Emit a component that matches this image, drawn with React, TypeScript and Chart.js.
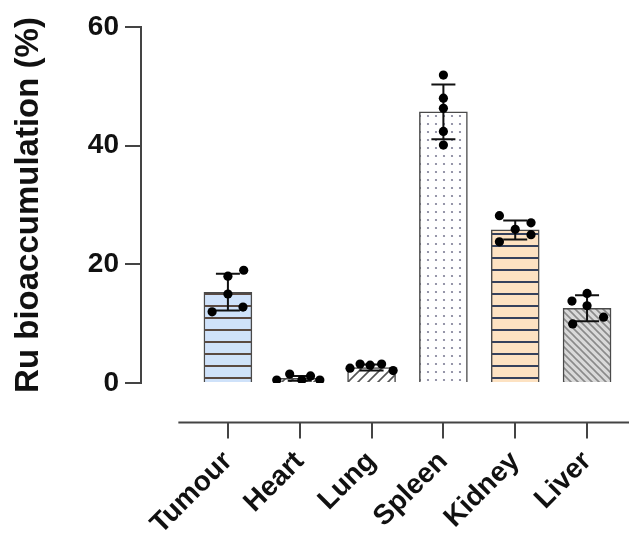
import React, { useEffect, useRef } from 'react';
import { Chart, registerables } from 'chart.js';

Chart.register(...registerables);

// ---------- data ----------
const categories = ['Tumour', 'Heart', 'Lung', 'Spleen', 'Kidney', 'Liver'];
const meanValues = [15.3, 0.8, 2.6, 45.7, 25.8, 12.6];
const sdValues = [3.1, 0.4, 0.5, 4.6, 1.6, 2.2];
const tumourPoints = [19.0, 18.0, 15.0, 12.8, 12.0];
const heartPoints = [0.5, 1.5, 0.5, 1.2, 0.5];
const lungPoints = [2.5, 3.2, 3.0, 3.2, 2.1];
const spleenPoints = [51.9, 48.0, 46.3, 42.4, 40.1];
const kidneyPoints = [28.2, 25.9, 27.0, 25.0, 23.8];
const liverPoints = [13.8, 15.1, 13.0, 11.1, 9.95];
const yTicks = [0, 20, 40, 60];
const yTitle = 'Ru bioaccumulation (%)';

// ---------- styling ----------
const pointSets = [tumourPoints, heartPoints, lungPoints, spleenPoints, kidneyPoints, liverPoints];
const jitter = [
  [0.22, 0, 0, 0.21, -0.22],
  [-0.32, -0.14, 0.03, 0.15, 0.28],
  [-0.3, -0.16, -0.02, 0.14, 0.3],
  [0, 0, 0, 0, 0],
  [-0.22, 0, 0.22, 0.22, -0.22],
  [-0.21, 0, 0, 0.23, -0.2],
];
const FONT = "'Liberation Sans', Arial, Helvetica, sans-serif";
const W = 629;
const H = 536;

function tile(w: number, h: number, draw: (c: CanvasRenderingContext2D) => void) {
  const cv = document.createElement('canvas');
  cv.width = w;
  cv.height = h;
  const c = cv.getContext('2d')!;
  draw(c);
  return c.createPattern(cv, 'repeat')!;
}

function hLines(bg: string, line: string) {
  return tile(4, 12, (c) => {
    c.fillStyle = bg;
    c.fillRect(0, 0, 4, 12);
    c.fillStyle = line;
    c.fillRect(0, 5, 4, 2);
  });
}

function diag(bg: string, line: string, s: number, forward: boolean, lw: number) {
  return tile(s, s, (c) => {
    c.fillStyle = bg;
    c.fillRect(0, 0, s, s);
    c.strokeStyle = line;
    c.lineWidth = lw;
    c.beginPath();
    if (forward) {
      c.moveTo(-1, s + 1); c.lineTo(s + 1, -1);
      c.moveTo(-1, 1); c.lineTo(1, -1);
      c.moveTo(s - 1, s + 1); c.lineTo(s + 1, s - 1);
    } else {
      c.moveTo(-1, -1); c.lineTo(s + 1, s + 1);
      c.moveTo(s - 1, -1); c.lineTo(s + 1, 1);
      c.moveTo(-1, s - 1); c.lineTo(1, s + 1);
    }
    c.stroke();
  });
}

function dots() {
  return tile(8, 8, (c) => {
    c.fillStyle = '#ffffff';
    c.fillRect(0, 0, 8, 8);
    c.fillStyle = '#7d7d95';
    c.beginPath();
    c.arc(4, 4, 1.1, 0, Math.PI * 2);
    c.fill();
  });
}

const errorBarPlugin = {
  id: 'errorBarsAndAxis',
  afterDatasetDraw(chart: any, args: any) {
    if (args.index !== 1) return;
    const ctx = chart.ctx;
    const xs = chart.scales.x;
    const ys = chart.scales.y;
    ctx.save();
    ctx.strokeStyle = '#111';
    ctx.lineWidth = 2;
    meanValues.forEach((m, i) => {
      const px = xs.getPixelForValue(i);
      const top = ys.getPixelForValue(m + sdValues[i]);
      const bot = ys.getPixelForValue(Math.max(0, m - sdValues[i]));
      ctx.beginPath();
      ctx.moveTo(px, top);
      ctx.lineTo(px, bot);
      ctx.moveTo(px - 12, top);
      ctx.lineTo(px + 12, top);
      ctx.moveTo(px - 12, bot);
      ctx.lineTo(px + 12, bot);
      ctx.stroke();
    });
    ctx.restore();
  },
  afterDraw(chart: any) {
    const ctx = chart.ctx;
    const xs = chart.scales.x;
    const yb = chart.chartArea.bottom + 39.5;
    ctx.save();
    ctx.strokeStyle = '#444';
    ctx.lineWidth = 2;
    ctx.beginPath();
    ctx.moveTo(xs.getPixelForValue(-0.69), yb);
    ctx.lineTo(chart.width, yb);
    categories.forEach((_, i) => {
      const px = Math.round(xs.getPixelForValue(i));
      ctx.moveTo(px, yb);
      ctx.lineTo(px, yb + 16);
    });
    ctx.stroke();
    ctx.restore();
  },
};

export default function App() {
  const ref = useRef<HTMLCanvasElement | null>(null);

  useEffect(() => {
    if (!ref.current) return;
    const fills = [
      hLines('#cfe2fa', '#5a4a42'),
      diag('#ffffff', '#555555', 8, true, 1.6),
      diag('#ffffff', '#555555', 10, true, 1.6),
      dots(),
      hLines('#fde2c2', '#35415c'),
      diag('#d9d9d9', '#8a8a8a', 7, false, 1.6),
    ];
    const scatterData: { x: number; y: number }[] = [];
    pointSets.forEach((set, i) => {
      set.forEach((v, j) => scatterData.push({ x: i + jitter[i][j], y: v }));
    });
    const tickFont = { family: FONT, size: 28, weight: 'bold' as const };

    const chart = new Chart(ref.current, {
      type: 'bar',
      data: {
        datasets: [
          {
            type: 'scatter',
            data: scatterData,
            pointRadius: 4.6,
            pointBackgroundColor: '#000',
            pointBorderColor: '#000',
            pointBorderWidth: 0,
            order: 0,
          } as any,
          {
            type: 'bar',
            data: meanValues.map((v, i) => ({ x: i, y: v })),
            backgroundColor: fills,
            borderColor: '#4a4a4a',
            borderWidth: 1.5,
            barThickness: 48,
            order: 1,
          } as any,
        ],
      },
      options: {
        animation: false,
        responsive: false,
        maintainAspectRatio: false,
        layout: { padding: { top: 27, left: 9, right: 0, bottom: 0 } },
        plugins: { legend: { display: false }, tooltip: { enabled: false } },
        scales: {
          x: {
            type: 'linear',
            offset: false,
            min: -1.21,
            max: 5.52,
            grid: { display: false, drawTicks: false, offset: false },
            border: { display: false },
            afterBuildTicks: (s: any) => {
              s.ticks = categories.map((_, i) => ({ value: i }));
            },
            afterFit: (s: any) => {
              s.height = 153;
              s.paddingLeft = 0;
              s.paddingRight = 0;
              s.paddingTop = 0;
              s.paddingBottom = 0;
            },
            ticks: {
              autoSkip: false,
              minRotation: 45,
              maxRotation: 45,
              padding: 62,
              font: tickFont,
              color: '#111',
              callback: (v: any) => categories[Math.round(Number(v))] ?? '',
            },
          } as any,
          y: {
            min: 0,
            max: 60,
            afterBuildTicks: (s: any) => {
              s.ticks = yTicks.map((v) => ({ value: v }));
            },
            afterFit: (s: any) => {
              s.width = 132;
              s.paddingTop = 0;
              s.paddingBottom = 0;
              s.paddingLeft = 0;
              s.paddingRight = 0;
            },
            ticks: { font: tickFont, color: '#111', padding: 6 },
            grid: { drawOnChartArea: false, drawTicks: true, tickLength: 16, color: '#444', lineWidth: 2 },
            border: { display: true, color: '#444', width: 2 },
            title: {
              display: true,
              text: yTitle,
              font: { family: FONT, size: 33, weight: 'bold' },
              color: '#111',
              padding: 0,
            },
          } as any,
        },
      },
      plugins: [errorBarPlugin],
    });
    return () => chart.destroy();
  }, []);

  return (
    <div style={{ position: 'absolute', left: 0, top: 0, width: W, height: H, background: '#fff' }}>
      <canvas ref={ref} width={W} height={H} style={{ width: W, height: H, display: 'block' }} />
    </div>
  );
}
